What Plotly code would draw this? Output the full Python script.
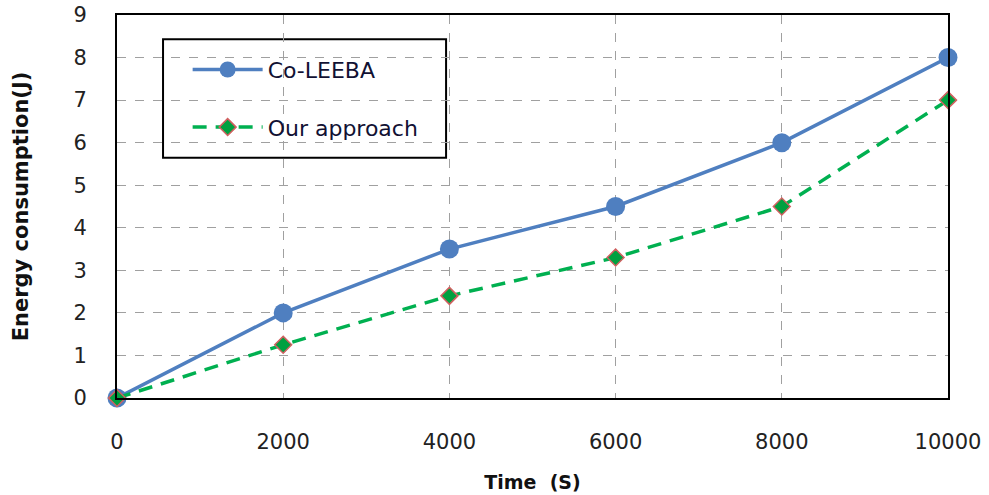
import plotly.graph_objects as go

time_s = [0, 2000, 4000, 6000, 8000, 10000]
co_leeba = [0, 2.0, 3.5, 4.5, 6.0, 8.0]
our_approach = [0, 1.25, 2.4, 3.3, 4.5, 7.0]
x_ticks = [0, 2000, 4000, 6000, 8000, 10000]
y_ticks = list(range(0, 10))

fig = go.Figure()
fig.add_trace(go.Scatter(
    x=time_s, y=co_leeba, name="Co-LEEBA", mode="lines+markers",
    line=dict(color="#4f7fc0", width=3.5),
    marker=dict(symbol="circle", size=19, color="#4f7fc0"),
    cliponaxis=False, legendgroup="a"))
fig.add_trace(go.Scatter(
    x=time_s, y=our_approach, name="Our approach", mode="lines+markers",
    line=dict(color="#00b050", width=3.5, dash="14px,9px"),
    marker=dict(symbol="diamond", size=13, color="#00a040",
                line=dict(color="#d06060", width=1.5)),
    cliponaxis=False, legendgroup="b"))

fig.add_shape(type="rect", xref="paper", yref="paper",
              x0=0.0554, x1=0.396, y0=0.627, y1=0.937,
              line=dict(color="black", width=2), fillcolor="white",
              layer="between")

fig.update_layout(
    width=989, height=495,
    margin=dict(l=117, r=41, t=15, b=97),
    plot_bgcolor="white", paper_bgcolor="white",
    font=dict(family="DejaVu Sans", size=21, color="#222222"),
    showlegend=True,
    legend=dict(x=0.085, y=0.912, xanchor="left", yanchor="top",
                bgcolor="rgba(0,0,0,0)", borderwidth=0,
                traceorder="grouped", tracegroupgap=26,
                font=dict(family="DejaVu Sans", size=22, color="#111133"),
                itemwidth=70),
    xaxis=dict(range=[0, 10000], tickvals=x_ticks,
               ticktext=[str(v) for v in x_ticks], automargin=False,
               showline=True, linecolor="black", linewidth=2, mirror=True,
               showgrid=True, gridcolor="#a0a0a0", griddash="dash", gridwidth=1,
               zeroline=False, ticks="", ticklabelstandoff=24,
               tickfont=dict(size=21),
               title=dict(text="Time\u00a0\u00a0(S)",
                          font=dict(family="DejaVu Sans", size=19, color="#111111", weight="bold"),
                          standoff=22)),
    yaxis=dict(range=[0, 9], tickvals=y_ticks, automargin=False,
               showline=True, linecolor="black", linewidth=2, mirror=True,
               showgrid=True, gridcolor="#a0a0a0", griddash="dash", gridwidth=1,
               zeroline=False, ticks="", ticklabelstandoff=24,
               tickfont=dict(size=21),
               title=dict(text="Energy consumption(J)",
                          font=dict(family="DejaVu Sans", size=21, color="#111111", weight="bold"),
                          standoff=39)),
)

fig.write_html("out.html")
